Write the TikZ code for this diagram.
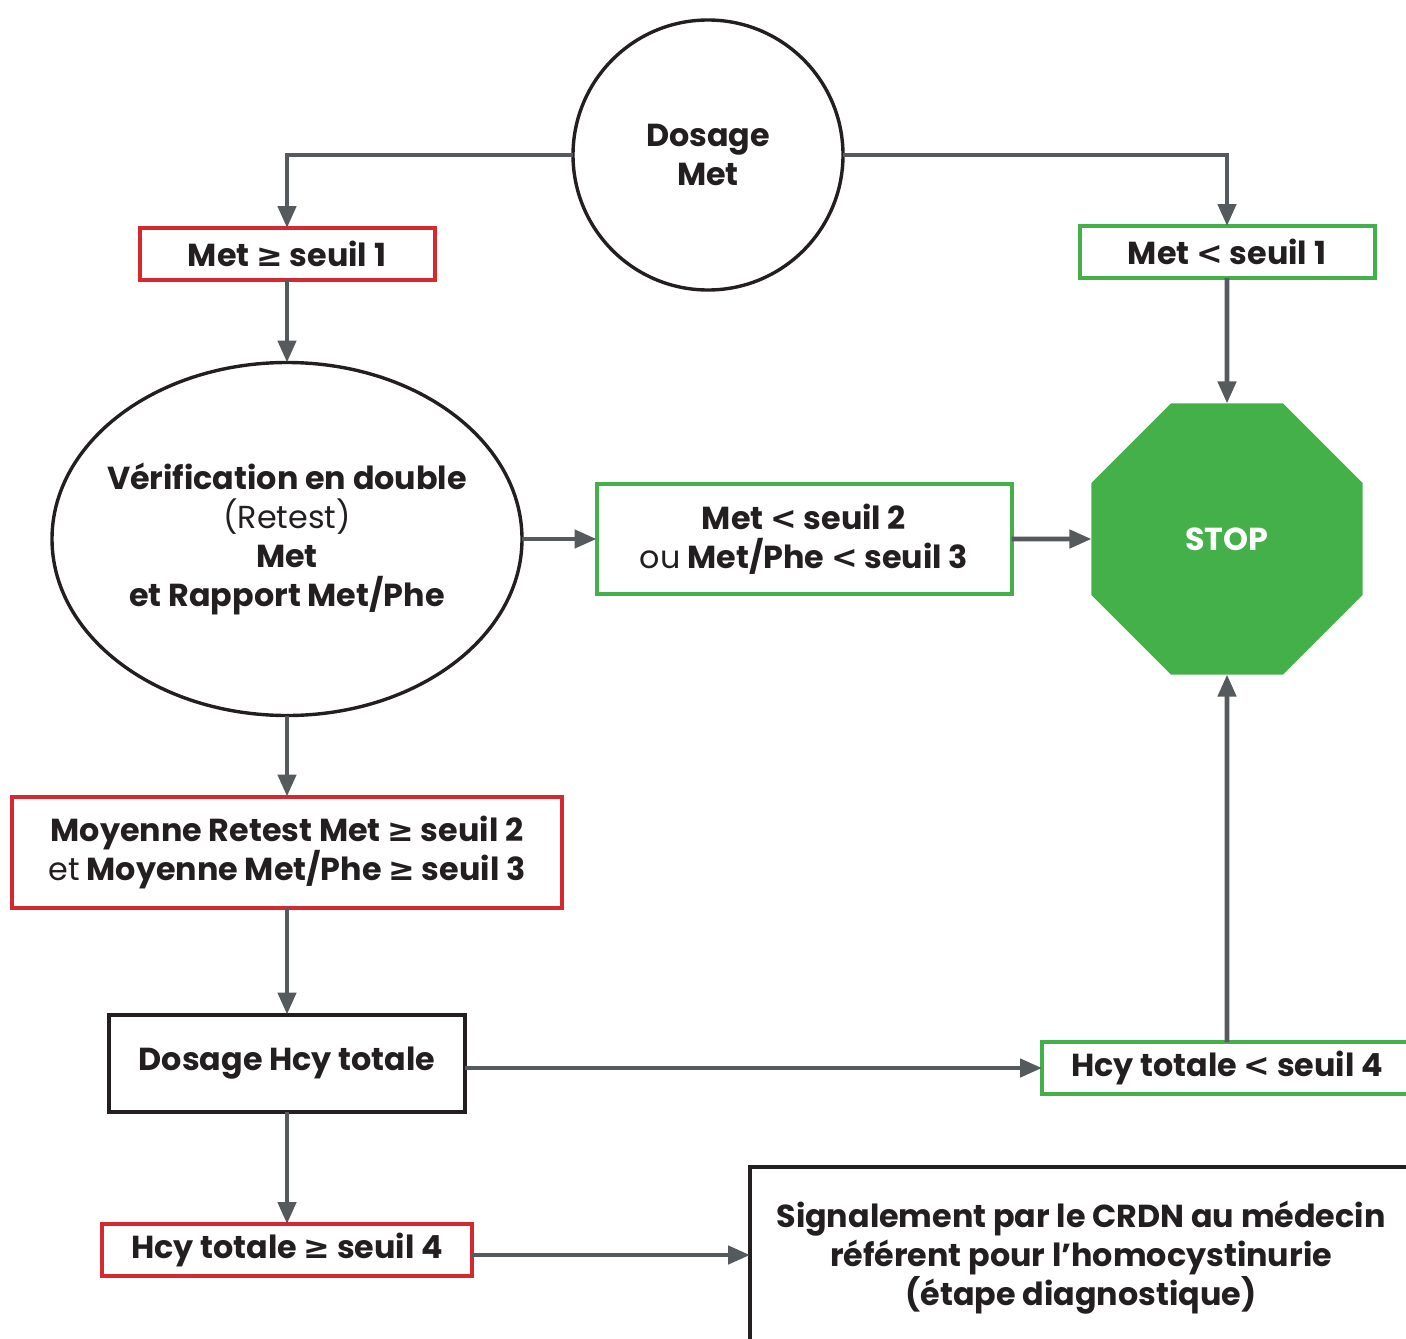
\documentclass[tikz,border=0pt]{standalone}
\usepackage{fontspec}
\setmainfont{Poppins}
\newfontfamily\dvsfont{DejaVu Sans}
\usetikzlibrary{arrows.meta,shapes.geometric}
\definecolor{redcol}{RGB}{214,40,47}
\definecolor{greencol}{RGB}{68,176,74}
\definecolor{arrowcol}{RGB}{85,90,92}
\definecolor{textcol}{RGB}{35,31,32}
\newcommand{\gesym}{{\dvsfont\bfseries ≥}}
\newcommand{\ltsym}{{\dvsfont\bfseries <}}
\begin{document}
\begin{tikzpicture}[x=0.5pt,y=-0.5pt,>={Triangle[length=11pt,width=9pt]},line join=miter,
  every node/.style={text=textcol,align=center,inner sep=0pt,outer sep=0pt,
    font=\fontsize{15.9}{19.5}\selectfont\bfseries},
  redbox/.style={rectangle,draw=redcol,line width=2pt},
  greenbox/.style={rectangle,draw=greencol,line width=2pt},
  blackbox/.style={rectangle,draw=textcol,line width=2pt},
  roundbox/.style={draw=textcol,line width=1.7pt},
  link/.style={->,draw=arrowcol,line width=2.3pt}]
  \useasboundingbox (0,0) rectangle (1406,1338);
  \clip (0,0) rectangle (1406,1338);
  % Node: dosage
  \node[roundbox,circle,minimum size=135pt] (dosage) at (708,155) {Dosage\\Met};
  % Node: metsup
  \node[redbox,minimum width=147.5pt,minimum height=26pt] (metsup) at (287,254) {Met \gesym{} seuil 1};
  % Node: metinf
  \node[greenbox,minimum width=147.5pt,minimum height=26pt] (metinf) at (1227,252) {Met \ltsym{} seuil 1};
  % Node: retest
  \node[roundbox,ellipse,inner sep=-10pt,minimum width=235pt,minimum height=176.5pt] (retest) at (287,539)
    {Vérification en double\\{\mdseries (Retest)}\\Met\\et Rapport Met/Phe};
  % Node: retinf
  \node[greenbox,minimum width=207.5pt,minimum height=55pt] (retinf) at (804,539)
    {Met \ltsym{} seuil 2\\{\mdseries ou} Met/Phe \ltsym{} seuil 3};
  % Node: stop
  \node[regular polygon,regular polygon sides=8,fill=greencol,minimum size=146.7pt,
    text=white] (stop) at (1227,539) {STOP};
  % Node: retsup
  \node[redbox,minimum width=275pt,minimum height=55.5pt] (retsup) at (287,852)
    {Moyenne Retest Met \gesym{} seuil 2\\{\mdseries et} Moyenne Met/Phe \gesym{} seuil 3};
  % Node: hcy
  \node[blackbox,minimum width=178pt,minimum height=48.5pt] (hcy) at (287,1063) {Dosage Hcy totale};
  % Node: hcyinf
  \node[greenbox,minimum width=185pt,minimum height=26pt] (hcyinf) at (1227,1068) {Hcy totale \ltsym{} seuil 4};
  % Node: hcysup
  \node[redbox,minimum width=185pt,minimum height=26pt] (hcysup) at (287,1250) {Hcy totale \gesym{} seuil 4};
  % Node: signal
  \node[blackbox,minimum width=331pt,minimum height=91.5pt] (signal) at (1081,1258)
    {Signalement par le CRDN au médecin\\référent pour l’homocystinurie\\(étape diagnostique)};
  % Edge: dosage -> metsup
  \draw[link] (dosage.west) -| (metsup.north);
  % Edge: dosage -> metinf
  \draw[link] (dosage.east) -| (metinf.north);
  % Edge: metsup -> retest
  \draw[link] (metsup.south) -- (retest.north);
  % Edge: metinf -> stop
  \draw[link] (metinf.south) -- (stop.north);
  % Edge: retest -> retinf
  \draw[link] (retest.east) -- (retinf.west);
  % Edge: retinf -> stop
  \draw[link] (retinf.east) -- (stop.west);
  % Edge: retest -> retsup
  \draw[link] (retest.south) -- (retsup.north);
  % Edge: retsup -> hcy
  \draw[link] (retsup.south) -- (hcy.north);
  % Edge: hcy -> hcyinf
  \draw[link] ([yshift=-2.5pt]hcy.east) -- ([yshift=-2.5pt]hcy.east -| hcyinf.west);
  % Edge: hcyinf -> stop
  \draw[link] (hcyinf.north) -- (stop.south);
  % Edge: hcy -> hcysup
  \draw[link] (hcy.south) -- (hcysup.north);
  % Edge: hcysup -> signal
  \draw[link] ([yshift=-2.5pt]hcysup.east) -- ([yshift=-2.5pt]hcysup.east -| signal.west);
\end{tikzpicture}
\end{document}
